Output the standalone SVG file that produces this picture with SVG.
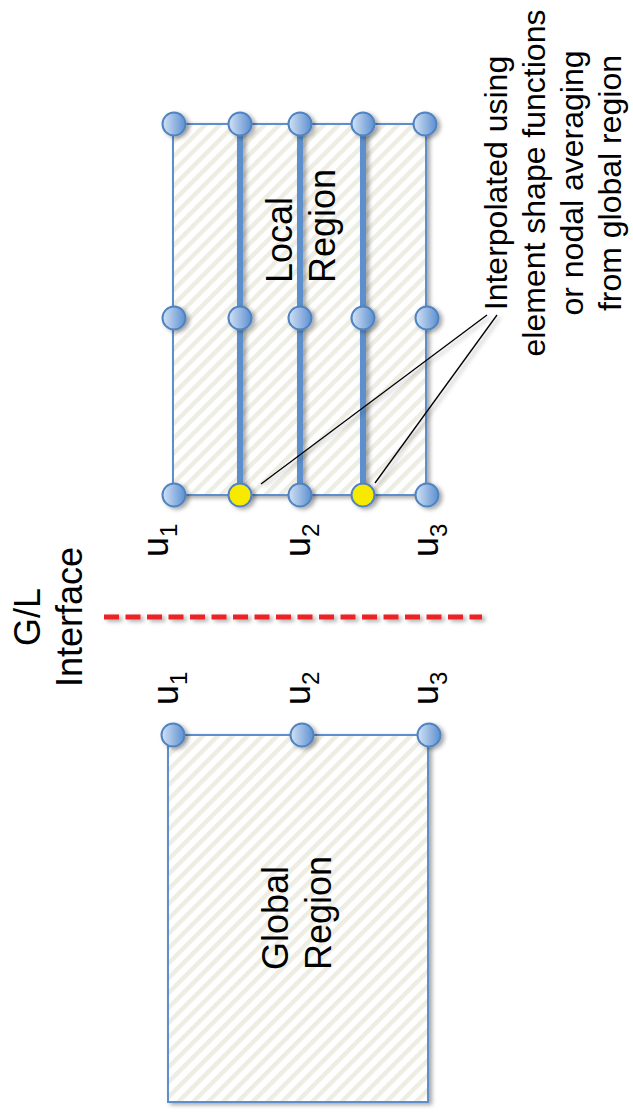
<svg xmlns="http://www.w3.org/2000/svg" width="633" height="1113" viewBox="0 0 633 1113">
<style>
.lbl{font-family:"Liberation Sans",Arial,sans-serif;fill:#000;}
.big{font-size:36px;}
.ann{font-size:32px;}
.sub{font-size:24px;}
.region{fill:url(#hatch);stroke:#5b8fcc;stroke-width:2;}
.mesh{stroke:#5b8fcb;stroke-width:6;fill:none;}
.node{fill:url(#ng);stroke:#4f83c2;stroke-width:2;}
.ynode{fill:#f7e900;stroke:#4f83c2;stroke-width:2;}
.leader{stroke:#000;stroke-width:1.3;fill:none;}
.iface{stroke:#ec2227;stroke-width:5;stroke-dasharray:15 6.5;fill:none;}
</style>
<defs>
<pattern id="hatch" patternUnits="userSpaceOnUse" width="10.5" height="10.5" patternTransform="rotate(45)">
<rect x="0" y="0" width="10.5" height="10.5" fill="#ffffff"/>
<rect x="0" y="0" width="4.5" height="10.5" fill="#eeede4"/>
</pattern>
<linearGradient id="ng" x1="0" y1="0" x2="1" y2="0">
<stop offset="0" stop-color="#d3e2f5"/>
<stop offset="1" stop-color="#5c8fd0"/>
</linearGradient>
<filter id="sh" filterUnits="userSpaceOnUse" x="0" y="0" width="633" height="1113">
<feDropShadow dx="3" dy="2" stdDeviation="2" flood-color="#000" flood-opacity="0.35"/>
</filter>
</defs>
<rect width="633" height="1113" fill="#ffffff"/>

<g id="global-region">
<rect class="region" x="168" y="735" width="260" height="367" filter="url(#sh)"/>
<g transform="rotate(-90)">
<text class="lbl big" x="-970" y="288">Global</text>
<text class="lbl big" x="-970" y="331">Region</text>
</g>
</g>

<g id="local-region">
<rect class="region" x="173" y="124" width="253" height="371" filter="url(#sh)"/>
<g transform="rotate(-90)">
<text class="lbl big" x="-283" y="292">Local</text>
<text class="lbl big" x="-283" y="335">Region</text>
</g>
</g>

<g id="connectors">
<g id="mesh-lines" filter="url(#sh)">
<line class="mesh" x1="240" y1="124" x2="240" y2="495"/>
<line class="mesh" x1="300" y1="124" x2="300" y2="495"/>
<line class="mesh" x1="363" y1="124" x2="363" y2="495"/>
</g>
<g id="leaders" filter="url(#sh)">
<line class="leader" x1="487" y1="315" x2="261" y2="484"/>
<line class="leader" x1="497" y1="315" x2="375" y2="483"/>
</g>
</g>

<g id="gl-interface">
<line class="iface" x1="104" y1="617" x2="482" y2="617" filter="url(#sh)"/>
<g transform="rotate(-90)">
<text class="lbl big" x="-617" y="40" text-anchor="middle">G/L</text>
<text class="lbl big" x="-617" y="82" text-anchor="middle">Interface</text>
</g>
</g>

<g id="global-nodes" filter="url(#sh)">
<g id="g-n1"><circle class="node" cx="173" cy="735" r="11.5"/></g>
<g id="g-n2"><circle class="node" cx="302" cy="735" r="11.5"/></g>
<g id="g-n3"><circle class="node" cx="429" cy="735" r="11.5"/></g>
</g>

<g id="local-nodes" filter="url(#sh)">
<g id="l-t1"><circle class="node" cx="174" cy="124" r="11.5"/></g>
<g id="l-t2"><circle class="node" cx="240" cy="124" r="11.5"/></g>
<g id="l-t3"><circle class="node" cx="300" cy="124" r="11.5"/></g>
<g id="l-t4"><circle class="node" cx="363" cy="124" r="11.5"/></g>
<g id="l-t5"><circle class="node" cx="425" cy="124" r="11.5"/></g>
<g id="l-m1"><circle class="node" cx="174" cy="318" r="11.5"/></g>
<g id="l-m2"><circle class="node" cx="240" cy="318" r="11.5"/></g>
<g id="l-m3"><circle class="node" cx="300" cy="318" r="11.5"/></g>
<g id="l-m4"><circle class="node" cx="363" cy="318" r="11.5"/></g>
<g id="l-m5"><circle class="node" cx="427" cy="318" r="11.5"/></g>
<g id="l-b1"><circle class="node" cx="174" cy="495" r="11.5"/></g>
<g id="l-b2"><circle class="ynode" cx="240" cy="495" r="11.5"/></g>
<g id="l-b3"><circle class="node" cx="300" cy="495" r="11.5"/></g>
<g id="l-b4"><circle class="ynode" cx="363" cy="495" r="11.5"/></g>
<g id="l-b5"><circle class="node" cx="427" cy="495" r="11.5"/></g>
</g>

<g id="u-labels" transform="rotate(-90)">
<text class="lbl big" x="-557" y="168">u<tspan class="sub" dy="9">1</tspan></text>
<text class="lbl big" x="-557" y="310">u<tspan class="sub" dy="9">2</tspan></text>
<text class="lbl big" x="-557" y="438">u<tspan class="sub" dy="9">3</tspan></text>
<text class="lbl big" x="-705" y="178">u<tspan class="sub" dy="9">1</tspan></text>
<text class="lbl big" x="-705" y="310">u<tspan class="sub" dy="9">2</tspan></text>
<text class="lbl big" x="-705" y="438">u<tspan class="sub" dy="9">3</tspan></text>
</g>

<g id="annotation" transform="rotate(-90)">
<text class="lbl ann" x="-183" y="507" text-anchor="middle">Interpolated using</text>
<text class="lbl ann" x="-183" y="545" text-anchor="middle">element shape functions</text>
<text class="lbl ann" x="-183" y="583" text-anchor="middle">or nodal averaging</text>
<text class="lbl ann" x="-183" y="621" text-anchor="middle">from global region</text>
</g>
</svg>
